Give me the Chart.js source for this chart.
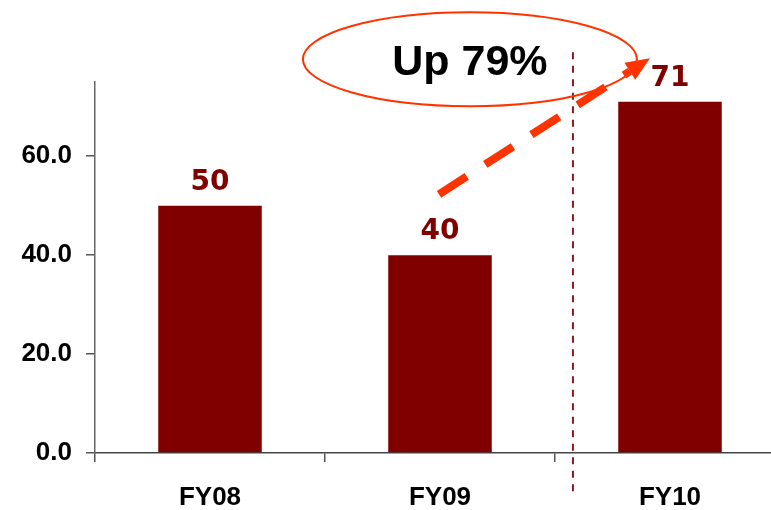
<!DOCTYPE html>
<html>
<head>
<meta charset="utf-8">
<title>Revenue FY08-FY10</title>
<script src="https://cdn.jsdelivr.net/npm/chart.js@4/dist/chart.umd.min.js"></script>
<style>
    html, body { margin: 0; padding: 0; background: #fff; overflow: hidden; }
    #wrap { width: 771px; height: 510px; overflow: hidden; }
</style>
</head>
<body>
<div id="wrap"><canvas id="chart" width="800" height="510"></canvas></div>
<script>
// --- Data ---
const categories = ['FY08', 'FY09', 'FY10'];
const revenue = [50, 40, 71];
const yTicks = [0, 20, 40, 60];
const growthLabel = 'Up 79%';

const BAR_COLOR = '#800000';
const ARROW_COLOR = '#FF3300';
const AXIS_FONT = '"Liberation Sans", Arial, sans-serif';

// --- Value labels, divider and growth callout ---
const callout = {
    id: 'callout',
    afterDatasetsDraw(chart) {
        const ctx = chart.ctx;
        const xs = chart.scales.x;
        const ys = chart.scales.y;
        const meta = chart.getDatasetMeta(0);

        ctx.save();

        // values above bars
        ctx.font = 'bold 28px "DejaVu Sans", Verdana, sans-serif';
        ctx.fillStyle = BAR_COLOR;
        ctx.textAlign = 'center';
        ctx.textBaseline = 'alphabetic';
        meta.data.forEach((bar, i) => {
            ctx.fillText(String(revenue[i]), bar.x, bar.y - 16);
        });

        // dotted divider before the latest year
        const divX = xs.getPixelForValue(1.578);
        ctx.strokeStyle = '#8B1A1A';
        ctx.lineWidth = 2;
        ctx.setLineDash([7, 6.5]);
        ctx.beginPath();
        ctx.moveTo(divX, ys.getPixelForValue(81));
        ctx.lineTo(divX, chart.chartArea.bottom + 42);
        ctx.stroke();

        // ellipse around the growth text
        const cx = xs.getPixelForValue(1.13);
        const cy = ys.getPixelForValue(79.6);
        ctx.setLineDash([]);
        ctx.strokeStyle = ARROW_COLOR;
        ctx.lineWidth = 2;
        ctx.beginPath();
        ctx.ellipse(cx, cy, 167, 47, 0, 0, Math.PI * 2);
        ctx.stroke();

        // dashed arrow from FY09 up to FY10
        const sx = xs.getPixelForValue(1) - 1;
        const sy = ys.getPixelForValue(52.3);
        const tx = xs.getPixelForValue(1.913);
        const ty = ys.getPixelForValue(79.8);
        const len = Math.hypot(tx - sx, ty - sy);
        const ux = (tx - sx) / len, uy = (ty - sy) / len;
        const bx = tx - ux * 24, by = ty - uy * 24;

        ctx.lineWidth = 8;
        ctx.lineCap = 'butt';
        ctx.setLineDash([33, 22]);
        ctx.beginPath();
        ctx.moveTo(sx, sy);
        ctx.lineTo(bx, by);
        ctx.stroke();

        ctx.setLineDash([]);
        ctx.fillStyle = ARROW_COLOR;
        ctx.beginPath();
        ctx.moveTo(tx, ty);
        ctx.lineTo(bx + uy * 10, by - ux * 10);
        ctx.lineTo(bx - uy * 10, by + ux * 10);
        ctx.closePath();
        ctx.fill();

        // growth text
        ctx.font = 'bold 43px ' + AXIS_FONT;
        ctx.fillStyle = '#000';
        ctx.textAlign = 'center';
        ctx.fillText(growthLabel, cx, cy + 16);

        ctx.restore();
    }
};

// --- Chart ---
new Chart(document.getElementById('chart'), {
    type: 'bar',
    data: {
        labels: categories,
        datasets: [{
            data: revenue,
            backgroundColor: BAR_COLOR,
            barPercentage: 0.45,
            categoryPercentage: 1,
        }],
    },
    options: {
        responsive: false,
        animation: false,
        layout: { padding: { top: 82, right: 15, left: 0, bottom: 0 } },
        plugins: {
            legend: { display: false },
            tooltip: { enabled: false },
        },
        scales: {
            x: {
                grid: { drawOnChartArea: false, tickLength: 9, color: '#555', lineWidth: 1.5 },
                border: { color: '#444', width: 1.5 },
                ticks: {
                    color: '#000',
                    padding: 20,
                    font: { family: AXIS_FONT, size: 26, weight: 'bold' },
                },
                afterFit(scale) { scale.height = 57; },
            },
            y: {
                min: 0,
                max: 75,
                afterBuildTicks(scale) {
                    scale.ticks = yTicks.map(v => ({ value: v }));
                },
                grid: { drawOnChartArea: false, tickLength: 9, color: '#555', lineWidth: 1.5 },
                border: { color: '#666', width: 1.5 },
                ticks: {
                    color: '#000',
                    padding: 14,
                    font: { family: AXIS_FONT, size: 26, weight: 'bold' },
                    callback: v => v.toFixed(1),
                },
                afterFit(scale) { scale.width = 95; },
            },
        },
    },
    plugins: [callout],
});
</script>
</body>
</html>
